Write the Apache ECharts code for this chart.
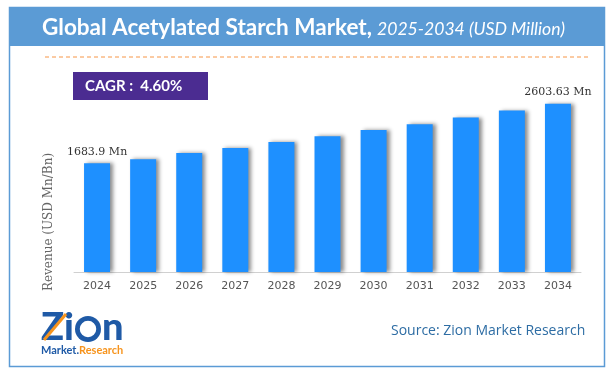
<!DOCTYPE html>
<html>
<head>
<meta charset="utf-8">
<script src="https://cdn.jsdelivr.net/npm/echarts@6/dist/echarts.min.js"></script>
<style>html,body{margin:0;padding:0;background:#fff}#c{width:612px;height:381px}</style>
</head>
<body>
<div id="c"></div>
<script>
const years = ['2024','2025','2026','2027','2028','2029','2030','2031','2032','2033','2034'];
const revenue = [1683.9, 1745, 1842, 1920, 2010, 2100, 2195, 2287, 2390, 2498, 2603.63];
const labelText = ['1683.9 Mn', '', '', '', '', '', '', '', '', '', '2603.63 Mn'];
const titleMain = 'Global Acetylated Starch Market,';
const titleSub = '2025-2034 (USD Million)';
const cagrText = 'CAGR :  4.60%';
const sourceText = 'Source: Zion Market Research';
const yName = 'Revenue (USD Mn/Bn)';

const chart = echarts.init(document.getElementById('c'), null, {renderer: 'canvas'});
const barData = revenue.map((v, i) => ({
  value: v,
  label: {show: labelText[i] !== '', formatter: labelText[i]}
}));
chart.setOption({
  animation: false,
  grid: {left: 74, right: 31, top: 91, bottom: 109},
  xAxis: {
    type: 'category', data: years,
    axisLine: {lineStyle: {color: '#d0d0d0'}},
    axisTick: {show: false},
    axisLabel: {color: '#555', fontFamily: 'DejaVu Sans', fontSize: 11, margin: 9}
  },
  yAxis: {
    type: 'value', min: 0, max: 2800,
    axisLine: {show: false}, axisTick: {show: false}, axisLabel: {show: false},
    splitLine: {show: false}
  },
  series: [{
    type: 'bar', data: barData, barWidth: 26,
    itemStyle: {color: '#1E90FF', shadowColor: 'rgba(0,0,0,0.45)', shadowOffsetX: 3, shadowOffsetY: 0, shadowBlur: 4},
    label: {position: 'top', distance: 6, color: '#333', fontFamily: 'DejaVu Serif', fontSize: 11}
  }],
  graphic: [
    {type: 'rect', shape: {x: 9.5, y: 7.5, width: 595, height: 359}, style: {fill: 'none', stroke: '#5B9BD5', lineWidth: 1.5}, z: 10},
    {type: 'rect', shape: {x: 9, y: 7, width: 596, height: 39}, style: {fill: '#5B9BD5'}, z: 9},
    {type: 'text', x: 42, y: 28, style: {text: titleMain, fill: '#fff', font: 'bold 22.5px Lato', textVerticalAlign: 'middle'}, z: 11},
    {type: 'text', x: 377, y: 29, style: {text: titleSub, fill: '#fff', font: 'italic 17.6px Lato', textVerticalAlign: 'middle'}, z: 11},
    {type: 'line', shape: {x1: 45, y1: 57, x2: 588, y2: 57}, style: {stroke: '#F79646', lineWidth: 1, lineDash: [4, 3]}, z: 5},
    {type: 'rect', shape: {x: 73, y: 72, width: 135, height: 28}, style: {fill: '#4B2C91'}, z: 5},
    {type: 'text', x: 85, y: 86, style: {text: cagrText, fill: '#fff', font: 'bold 15px Lato', textVerticalAlign: 'middle'}, z: 6},
    {type: 'text', x: 49, y: 222, rotation: Math.PI / 2, style: {text: yName, fill: '#666', font: '12px "DejaVu Serif"', textAlign: 'center', textVerticalAlign: 'middle'}, z: 6},
    {type: 'text', x: 391, y: 331, style: {text: sourceText, fill: '#2E6DA4', font: '14px "Open Sans"', textVerticalAlign: 'middle'}, z: 6},
    {type: 'text', x: 41, y: 328, style: {text: 'Zi', fill: '#1F5AA6', font: '900 38px Lato', textVerticalAlign: 'middle'}, z: 6},
    {type: 'circle', shape: {cx: 88, cy: 329, r: 13}, style: {fill: '#1F5AA6'}, z: 6},
    {type: 'circle', shape: {cx: 88, cy: 329, r: 9}, style: {fill: '#fff', stroke: '#1F5AA6', lineWidth: 1.5}, z: 7},
    {type: 'text', x: 102, y: 328, style: {text: 'n', fill: '#1F5AA6', font: '900 38px Lato', textVerticalAlign: 'middle'}, z: 6},
    {type: 'line', shape: {x1: 44, y1: 340, x2: 66, y2: 314}, style: {stroke: '#F7941D', lineWidth: 3}, z: 8},
    {type: 'text', x: 41, y: 350, style: {text: 'Market.', fill: '#1F5AA6', font: 'bold 11px Lato', textVerticalAlign: 'middle'}, z: 6},
    {type: 'text', x: 79, y: 350, style: {text: 'Research', fill: '#F7941D', font: 'bold 11px Lato', textVerticalAlign: 'middle'}, z: 6}
  ]
});
</script>
</body>
</html>
